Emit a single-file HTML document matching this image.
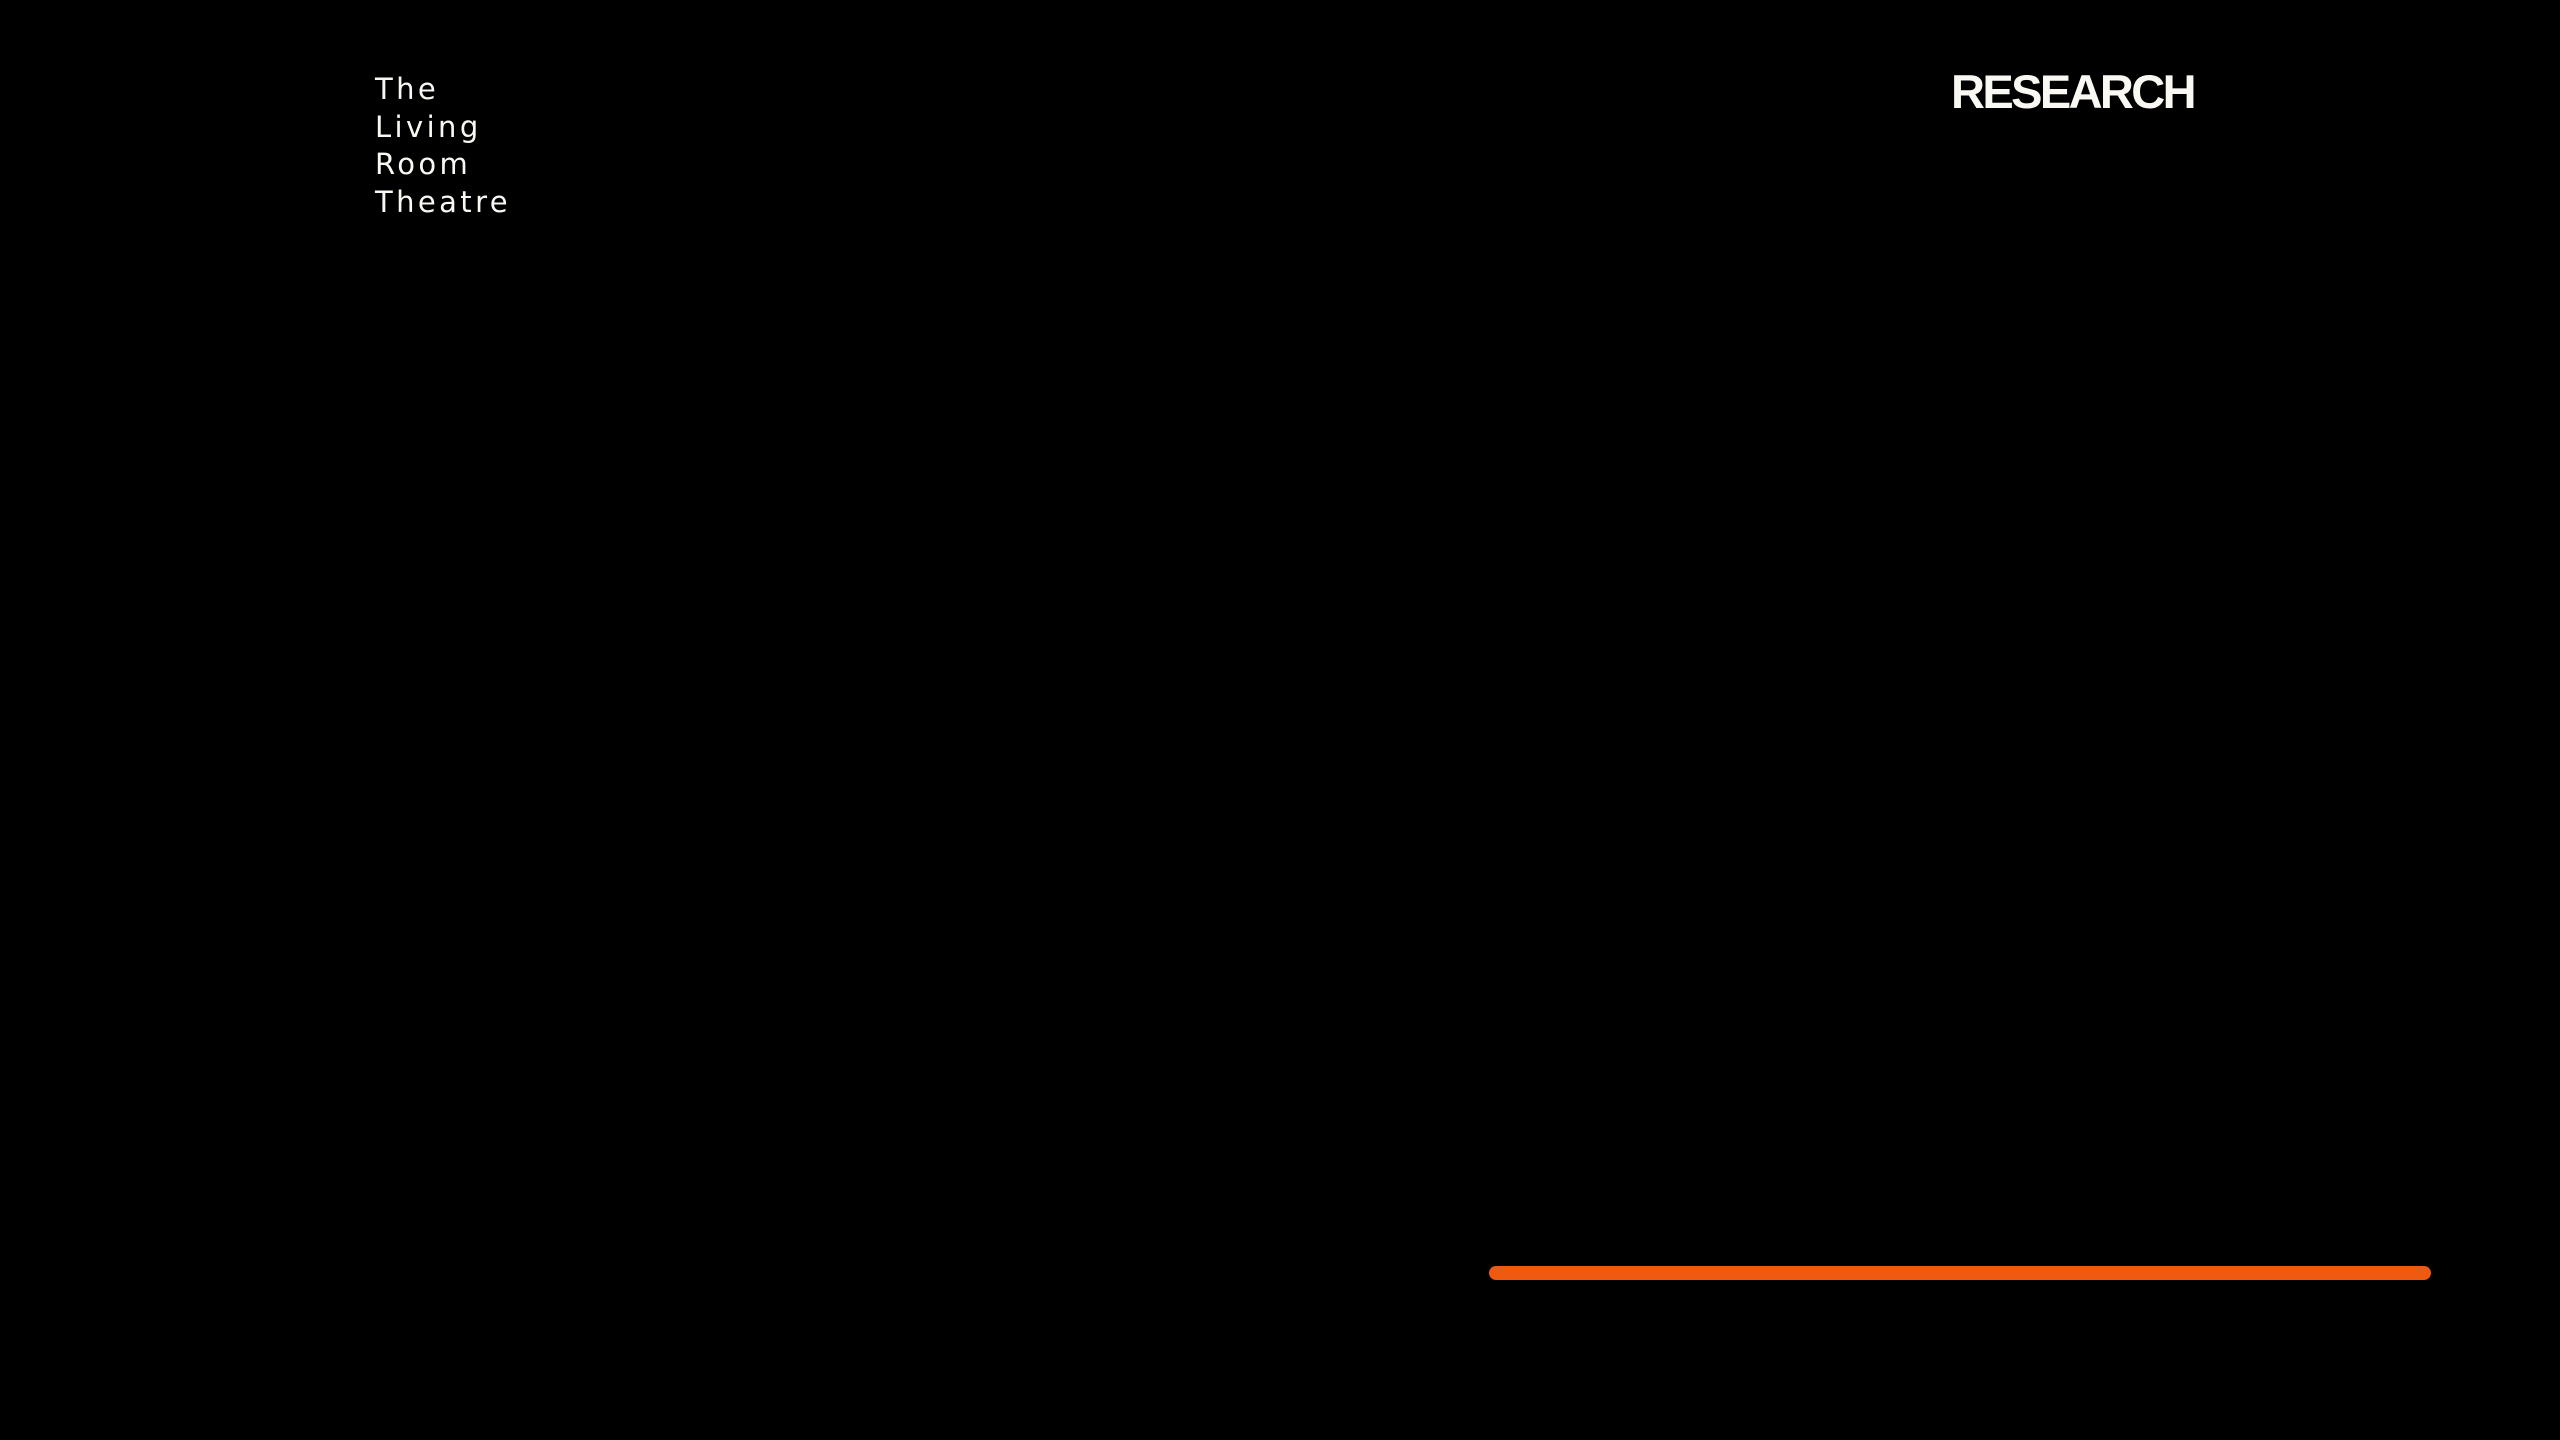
<!DOCTYPE html>
<html><head><meta charset="utf-8"><style>
html,body{margin:0;padding:0;background:#000;}
body{width:2560px;height:1440px;position:relative;overflow:hidden;}
.logo{position:absolute;left:375px;top:71px;font-family:"DejaVu Sans","Liberation Sans",sans-serif;font-size:29px;line-height:37.5px;letter-spacing:3.4px;color:#faf8f2;}
.res{position:absolute;left:1951px;top:64px;font-family:"Liberation Sans",sans-serif;font-weight:bold;font-size:47px;letter-spacing:-2.6px;color:#faf8f2;line-height:56px;}
.line{position:absolute;left:1489px;top:1266px;width:942px;height:14px;border-radius:7px;background:#ef5a10;}
</style></head><body>
<div class="logo">The<br>Living<br>Room<br>Theatre</div>
<div class="res">RESEARCH</div>
<div class="line"></div>
</body></html>
